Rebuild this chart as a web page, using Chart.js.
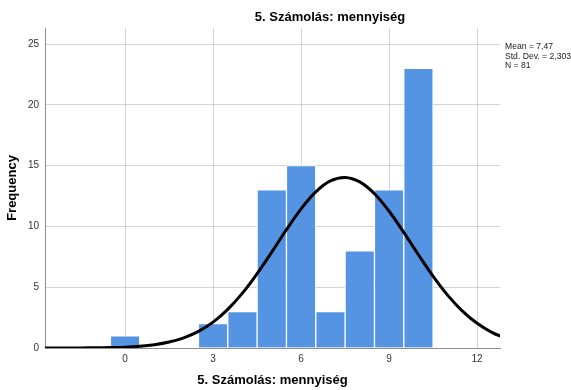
<!DOCTYPE html>
<html lang="hu">
<head>
  <meta charset="UTF-8" />
  <title>5. Számolás: mennyiség</title>
  <script src="https://cdn.jsdelivr.net/npm/chart.js"></script>
  <style>
    body { margin: 0; background: #fff; }
    #wrap { width: 571px; height: 390px; }
  </style>
</head>
<body>
  <div id="wrap"><canvas id="histChart" width="571" height="390"></canvas></div>

  <script>
    // histogram bins (centre of each bin) and counts
    const binCenters = [0, 3, 4, 5, 6, 7, 8, 9, 10];
    const frequencies = [1, 2, 3, 13, 15, 3, 8, 13, 23];

    // normal curve
    const curveX = [-3, -2.5, -2, -1.5, -1, -0.5, 0, 0.5, 1, 1.5, 2, 2.5, 3, 3.5, 4, 4.5, 5, 5.5, 6, 6.5,
                    7, 7.5, 8, 8.5, 9, 9.5, 10, 10.5, 11, 11.5, 12, 12.5, 13];
    const curveY = [0, 0, 0, 0.01, 0.02, 0.04, 0.07, 0.14, 0.27, 0.49, 0.84, 1.37, 2.13, 3.18, 4.51, 6.11,
                    7.89, 9.73, 11.44, 12.84, 13.74, 14.03, 13.66, 12.69, 11.25, 9.51, 7.67, 5.9, 4.33,
                    3.04, 2.03, 1.29, 0.79];

    const xTicks = [0, 3, 6, 9, 12];
    const yTicks = [0, 5, 10, 15, 20, 25];

    const chartTitle = "5. Számolás: mennyiség";
    const statsLines = ["Mean = 7,47", "Std. Dev. = 2,303", "N = 81"];

    const FONT = "'Liberation Sans', Arial, sans-serif";

    // title and the stats box on the right
    const extraText = {
      id: "extraText",
      afterDraw(chart) {
        const ctx = chart.ctx;
        ctx.save();
        ctx.fillStyle = "#000";
        ctx.font = "bold 13px " + FONT;
        ctx.textAlign = "center";
        ctx.textBaseline = "middle";
        ctx.fillText(chartTitle, 330, 17);
        ctx.font = "8.6px " + FONT;
        ctx.textAlign = "left";
        ctx.fillStyle = "#222";
        statsLines.forEach((t, i) => ctx.fillText(t, 505, 47 + i * 9.3));
        ctx.restore();
      }
    };

    const ctx = document.getElementById("histChart").getContext("2d");
    new Chart(ctx, {
      type: "bar",
      data: {
        datasets: [
          {
            type: "line",
            data: curveX.map((x, i) => ({ x: x, y: curveY[i] })),
            borderColor: "#000",
            borderWidth: 3,
            pointRadius: 0,
            tension: 0.4,
            fill: false,
            order: 0
          },
          {
            type: "bar",
            data: binCenters.map((x, i) => ({ x: x, y: frequencies[i] })),
            backgroundColor: "#5594E2",
            borderColor: "#ffffff",
            borderWidth: 1,
            barPercentage: 1,
            categoryPercentage: 1,
            order: 1
          }
        ]
      },
      options: {
        responsive: false,
        animation: false,
        devicePixelRatio: 1,
        layout: { padding: { top: 28, right: 71, left: 0, bottom: 0 } },
        plugins: {
          legend: { display: false },
          tooltip: { enabled: false }
        },
        scales: {
          x: {
            type: "linear",
            offset: false,
            min: -2.73,
            max: 12.78,
            afterBuildTicks: s => { s.ticks = xTicks.map(v => ({ value: v })); },
            afterFit: s => { s.height = 42; },
            grid: { color: "#d4d4d4", drawTicks: false, offset: false },
            border: { color: "#8e8e8e", width: 1 },
            ticks: { color: "#333", font: { size: 10, family: FONT }, padding: 5, maxRotation: 0 },
            title: {
              display: true,
              text: chartTitle,
              color: "#000",
              font: { size: 13, weight: "bold", family: FONT },
              padding: { top: 0, bottom: 2 }
            }
          },
          y: {
            min: 0,
            max: 26.32,
            afterBuildTicks: s => { s.ticks = yTicks.map(v => ({ value: v })); },
            afterFit: s => { s.width = 45; },
            grid: { color: "#d4d4d4", drawTicks: false },
            border: { color: "#8e8e8e", width: 1 },
            ticks: { color: "#333", font: { size: 10, family: FONT }, padding: 6 },
            title: {
              display: true,
              text: "Frequency",
              color: "#000",
              font: { size: 13, weight: "bold", family: FONT },
              padding: { top: 5, bottom: 0 }
            }
          }
        }
      },
      plugins: [extraText]
    });
  </script>
</body>
</html>
